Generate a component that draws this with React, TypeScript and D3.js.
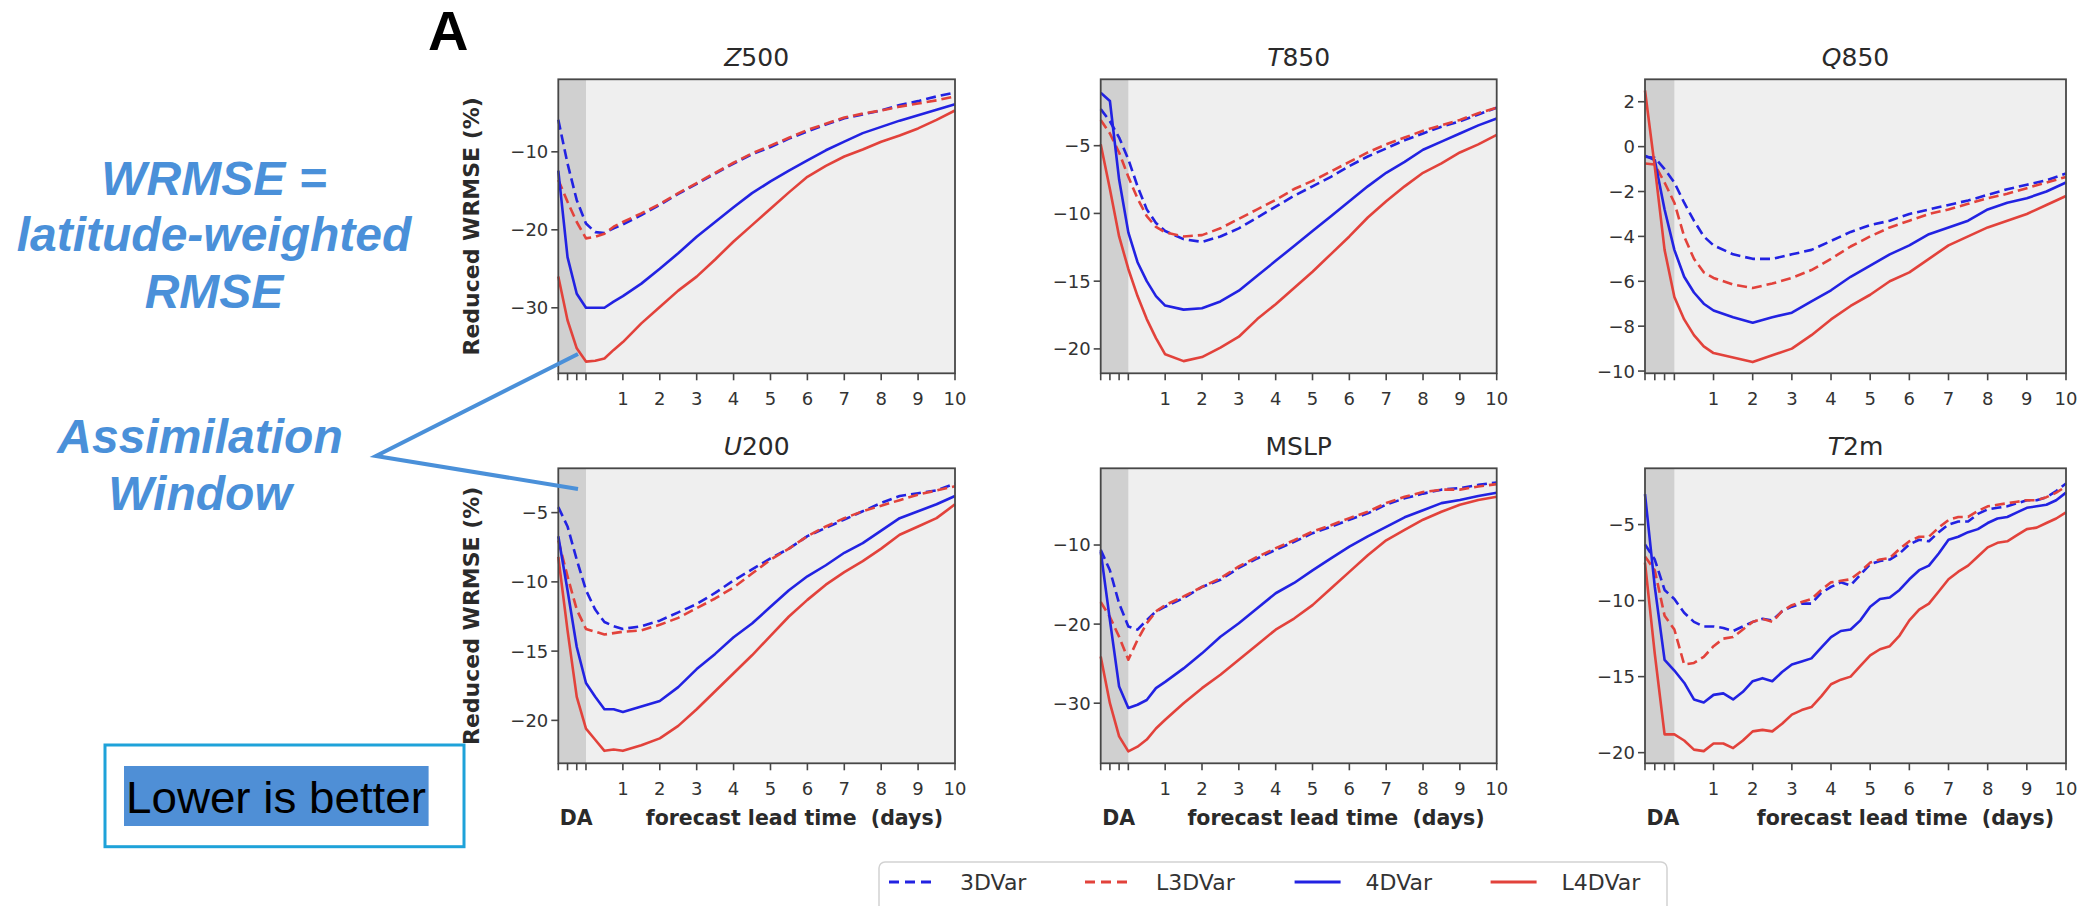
import React from 'react';
import * as d3 from 'd3';

// ---------- data ----------
const LEAD = [-0.75, -0.5, -0.25, 0, 0.25, 0.5, 0.75, 1, 1.5, 2, 2.5, 3, 3.5, 4, 4.5, 5, 5.5, 6, 6.5, 7, 7.5, 8, 8.5, 9, 9.5, 10];
const LEAD_6H = [-0.75, -0.5, -0.25, 0, 0.25, 0.5, 0.75, 1, 1.25, 1.5, 1.75, 2, 2.25, 2.5, 2.75, 3, 3.25, 3.5, 3.75, 4, 4.25, 4.5, 4.75, 5, 5.25, 5.5, 5.75, 6, 6.25, 6.5, 6.75, 7, 7.25, 7.5, 7.75, 8, 8.25, 8.5, 8.75, 9, 9.25, 9.5, 9.75, 10];
const DA_TICKS = [-0.75, -0.5, -0.25, 0];
const DAY_TICKS = [1, 2, 3, 4, 5, 6, 7, 8, 9, 10];

const SERIES_NAMES = ['3DVar', 'L3DVar', '4DVar', 'L4DVar'];

const z500_3DVar = [-5.9, -11.5, -16.2, -19.2, -20.3, -20.4, -19.8, -19.3, -18.1, -16.8, -15.4, -14.1, -12.8, -11.5, -10.3, -9.4, -8.3, -7.4, -6.5, -5.7, -5.2, -4.7, -4.0, -3.5, -2.9, -2.4];
const z500_L3DVar = [-13.6, -16.4, -19.0, -21.1, -20.9, -20.5, -19.6, -19.0, -17.9, -16.7, -15.3, -14.0, -12.7, -11.4, -10.2, -9.2, -8.2, -7.2, -6.4, -5.6, -5.1, -4.7, -4.2, -3.8, -3.4, -2.9];
const z500_4DVar = [-12.4, -23.5, -28.2, -30.0, -30.0, -30.0, -29.2, -28.5, -26.9, -25.0, -23.0, -20.9, -19.0, -17.1, -15.3, -13.8, -12.4, -11.1, -9.8, -8.7, -7.6, -6.8, -6.0, -5.3, -4.6, -3.9];
const z500_L4DVar = [-26.0, -31.6, -35.2, -36.9, -36.8, -36.5, -35.4, -34.4, -32.0, -29.9, -27.8, -26.0, -23.8, -21.5, -19.4, -17.3, -15.2, -13.2, -11.8, -10.6, -9.7, -8.7, -7.9, -7.0, -5.9, -4.7];

const t850_3DVar = [-2.3, -3.2, -4.4, -6.0, -8.0, -9.7, -10.7, -11.3, -11.9, -12.1, -11.7, -11.1, -10.3, -9.5, -8.7, -8.0, -7.3, -6.5, -5.8, -5.2, -4.6, -4.1, -3.6, -3.2, -2.7, -2.2];
const t850_L3DVar = [-3.1, -4.1, -5.5, -7.3, -8.9, -10.2, -11.0, -11.4, -11.7, -11.6, -11.1, -10.4, -9.7, -9.0, -8.2, -7.6, -6.9, -6.2, -5.5, -4.9, -4.4, -3.9, -3.5, -3.1, -2.6, -2.2];
const t850_4DVar = [-1.1, -1.7, -7.5, -11.4, -13.6, -15.0, -16.1, -16.8, -17.1, -17.0, -16.5, -15.7, -14.6, -13.5, -12.4, -11.3, -10.2, -9.1, -8.0, -7.0, -6.2, -5.3, -4.7, -4.1, -3.5, -3.0];
const t850_L4DVar = [-4.9, -8.2, -11.7, -14.1, -16.1, -17.8, -19.2, -20.4, -20.9, -20.6, -19.9, -19.1, -17.8, -16.7, -15.5, -14.3, -13.0, -11.7, -10.3, -9.1, -8.0, -7.0, -6.3, -5.5, -4.9, -4.2];

const q850_3DVar = [-0.45, -0.5, -1.0, -1.6, -2.5, -3.3, -4.0, -4.4, -4.8, -5.0, -5.0, -4.8, -4.6, -4.2, -3.8, -3.5, -3.3, -3.0, -2.8, -2.6, -2.4, -2.15, -1.9, -1.7, -1.5, -1.2];
const q850_L3DVar = [-0.75, -0.8, -1.6, -2.5, -4.0, -5.0, -5.6, -5.85, -6.15, -6.3, -6.1, -5.85, -5.5, -5.0, -4.45, -4.0, -3.6, -3.3, -3.0, -2.8, -2.55, -2.3, -2.1, -1.85, -1.6, -1.35];
const q850_4DVar = [-0.4, -0.6, -2.8, -4.6, -5.8, -6.5, -7.0, -7.3, -7.6, -7.85, -7.6, -7.4, -6.9, -6.4, -5.8, -5.3, -4.8, -4.4, -3.9, -3.6, -3.3, -2.8, -2.5, -2.3, -2.0, -1.6];
const q850_L4DVar = [2.5, -0.9, -4.6, -6.7, -7.7, -8.4, -8.9, -9.2, -9.4, -9.6, -9.3, -9.0, -8.4, -7.7, -7.1, -6.6, -6.0, -5.6, -5.0, -4.4, -4.0, -3.6, -3.3, -3.0, -2.6, -2.2];

const u200_3DVar = [-4.6, -6.0, -8.4, -10.6, -12.0, -12.9, -13.2, -13.4, -13.2, -12.8, -12.2, -11.6, -10.8, -9.9, -9.1, -8.3, -7.6, -6.7, -6.1, -5.5, -4.9, -4.3, -3.8, -3.6, -3.4, -2.9];
const u200_L3DVar = [-7.0, -9.6, -12.0, -13.4, -13.6, -13.8, -13.7, -13.6, -13.5, -13.1, -12.6, -11.9, -11.2, -10.4, -9.4, -8.4, -7.6, -6.7, -6.0, -5.4, -4.9, -4.5, -4.1, -3.7, -3.4, -3.1];
const u200_4DVar = [-6.7, -10.6, -14.7, -17.3, -18.3, -19.2, -19.2, -19.4, -19.0, -18.6, -17.6, -16.3, -15.2, -14.0, -13.0, -11.8, -10.6, -9.6, -8.8, -7.9, -7.2, -6.3, -5.4, -4.9, -4.4, -3.8];
const u200_L4DVar = [-8.2, -13.5, -18.3, -20.6, -21.4, -22.2, -22.1, -22.2, -21.8, -21.3, -20.4, -19.2, -17.9, -16.6, -15.3, -13.9, -12.5, -11.3, -10.2, -9.3, -8.5, -7.6, -6.6, -6.0, -5.4, -4.4];

const mslp_3DVar = [-10.6, -13.2, -17.4, -20.3, -20.7, -19.5, -18.4, -17.8, -16.7, -15.3, -14.4, -12.9, -11.7, -10.6, -9.6, -8.5, -7.7, -6.8, -6.0, -4.9, -4.1, -3.5, -3.0, -2.8, -2.4, -2.1];
const mslp_L3DVar = [-17.2, -19.1, -21.6, -24.5, -22.0, -19.9, -18.4, -17.6, -16.5, -15.3, -14.2, -12.7, -11.5, -10.4, -9.4, -8.3, -7.5, -6.6, -5.8, -4.7, -3.9, -3.3, -3.0, -3.0, -2.6, -2.3];
const mslp_4DVar = [-10.8, -19.5, -27.9, -30.6, -30.2, -29.6, -28.1, -27.3, -25.6, -23.7, -21.6, -19.9, -18.0, -16.1, -14.8, -13.2, -11.7, -10.2, -8.9, -7.7, -6.5, -5.6, -4.7, -4.3, -3.8, -3.4];
const mslp_L4DVar = [-24.1, -30.0, -34.2, -36.1, -35.5, -34.6, -33.2, -32.1, -30.0, -28.1, -26.4, -24.5, -22.6, -20.7, -19.3, -17.6, -15.5, -13.4, -11.3, -9.4, -8.1, -6.8, -5.8, -4.9, -4.3, -3.9];

const t2m_3DVar = [-6.3, -7.3, -9.3, -9.9, -10.8, -11.4, -11.7, -11.7, -11.8, -12.0, -11.7, -11.4, -11.2, -11.3, -10.7, -10.4, -10.2, -10.2, -9.5, -9.1, -8.8, -9.0, -8.3, -7.6, -7.4, -7.3, -6.9, -6.3, -6.0, -6.1, -5.5, -5.0, -4.8, -4.8, -4.3, -4.0, -3.9, -3.8, -3.6, -3.4, -3.4, -3.2, -2.8, -2.3];
const t2m_L3DVar = [-7.1, -8.0, -11.0, -11.9, -14.2, -14.1, -13.7, -13.0, -12.5, -12.4, -11.9, -11.4, -11.2, -11.4, -10.7, -10.3, -10.1, -9.9, -9.3, -8.8, -8.7, -8.6, -8.1, -7.5, -7.3, -7.2, -6.6, -6.1, -5.8, -5.8, -5.2, -4.7, -4.5, -4.5, -4.1, -3.8, -3.7, -3.6, -3.5, -3.4, -3.4, -3.2, -2.9, -2.5];
const t2m_4DVar = [-3.0, -9.1, -13.9, -14.6, -15.4, -16.5, -16.7, -16.2, -16.1, -16.5, -16.0, -15.3, -15.1, -15.3, -14.7, -14.2, -14.0, -13.8, -13.1, -12.4, -12.0, -11.9, -11.3, -10.4, -9.9, -9.8, -9.3, -8.6, -8.0, -7.7, -6.9, -6.0, -5.8, -5.5, -5.3, -4.9, -4.6, -4.5, -4.2, -3.9, -3.8, -3.7, -3.4, -2.9];
const t2m_L4DVar = [-7.5, -13.5, -18.8, -18.8, -19.2, -19.8, -19.9, -19.4, -19.4, -19.7, -19.2, -18.6, -18.5, -18.6, -18.1, -17.5, -17.2, -17.0, -16.3, -15.5, -15.2, -15.0, -14.3, -13.6, -13.2, -13.0, -12.3, -11.3, -10.6, -10.2, -9.4, -8.6, -8.1, -7.7, -7.1, -6.5, -6.2, -6.1, -5.7, -5.3, -5.2, -4.9, -4.6, -4.2];

const Z500_TICKS = [-10, -20, -30];
const T850_TICKS = [-5, -10, -15, -20];
const Q850_TICKS = [2, 0, -2, -4, -6, -8, -10];
const U200_TICKS = [-5, -10, -15, -20];
const MSLP_TICKS = [-10, -20, -30];
const T2M_TICKS = [-5, -10, -15, -20];

// ---------- styling ----------
const BLUE = '#2222e2';
const RED = '#e2423b';
const SERIES_STYLE = [
  { color: BLUE, dash: true },
  { color: RED, dash: true },
  { color: BLUE, dash: false },
  { color: RED, dash: false },
];
const ANNOT = '#4a90d9';
const FONT = '"DejaVu Sans", Verdana, sans-serif';
const AFONT = '"Liberation Sans", Arial, sans-serif';

const ROWS = [{ y0: 79.3, y1: 373.3 }, { y0: 468.3, y1: 763.3 }];
const COLS = [{ x0: 558.3, x1: 955 }, { x0: 1100.7, x1: 1496.7 }, { x0: 1645, x1: 2066 }];

const PANELS = [
  { it: 'Z', rest: '500', lead: LEAD, values: [z500_3DVar, z500_L3DVar, z500_4DVar, z500_L4DVar], yDomain: [-38.4, -0.7], ticks: Z500_TICKS, row: 0, col: 0 },
  { it: 'T', rest: '850', lead: LEAD, values: [t850_3DVar, t850_L3DVar, t850_4DVar, t850_L4DVar], yDomain: [-21.8, -0.1], ticks: T850_TICKS, row: 0, col: 1 },
  { it: 'Q', rest: '850', lead: LEAD, values: [q850_3DVar, q850_L3DVar, q850_4DVar, q850_L4DVar], yDomain: [-10.1, 3.0], ticks: Q850_TICKS, row: 0, col: 2 },
  { it: 'U', rest: '200', lead: LEAD, values: [u200_3DVar, u200_L3DVar, u200_4DVar, u200_L4DVar], yDomain: [-23.1, -1.8], ticks: U200_TICKS, row: 1, col: 0 },
  { it: '', rest: 'MSLP', lead: LEAD, values: [mslp_3DVar, mslp_L3DVar, mslp_4DVar, mslp_L4DVar], yDomain: [-37.6, -0.3], ticks: MSLP_TICKS, row: 1, col: 1 },
  { it: 'T', rest: '2m', lead: LEAD_6H, values: [t2m_3DVar, t2m_L3DVar, t2m_4DVar, t2m_L4DVar], yDomain: [-20.7, -1.3], ticks: T2M_TICKS, row: 1, col: 2 },
];

const fmt = (v: number) => (v < 0 ? '\u2212' + Math.abs(v) : String(v));

function Panel({ p }: { p: any }) {
  const { x0, x1 } = COLS[p.col];
  const { y0, y1 } = ROWS[p.row];
  const x = d3.scaleLinear().domain([-0.75, 10]).range([x0, x1]);
  const y = d3.scaleLinear().domain(p.yDomain).range([y1, y0]);
  const cx = (x0 + x1) / 2;
  const tickLen = 7;
  return (
    <g>
      <rect x={x0} y={y0} width={x1 - x0} height={y1 - y0} fill="#efefef" />
      <rect x={x(-0.75)} y={y0} width={x(0) - x(-0.75)} height={y1 - y0} fill="#d0d0d0" />
      {p.values.map((vals: number[], i: number) => {
        const line = d3.line<number>().x((_, j) => x(p.lead[j])).y((v) => y(v));
        const s = SERIES_STYLE[i];
        return (
          <path key={i} d={line(vals) || ''} fill="none" stroke={s.color} strokeWidth={2.6}
            strokeDasharray={s.dash ? '10,5' : undefined} strokeLinejoin="round" />
        );
      })}
      <rect x={x0} y={y0} width={x1 - x0} height={y1 - y0} fill="none" stroke="#474747" strokeWidth={1.8} />
      {/* x ticks */}
      {DA_TICKS.concat(DAY_TICKS).map((t) => (
        <line key={'xt' + t} x1={x(t)} x2={x(t)} y1={y1} y2={y1 + tickLen} stroke="#474747" strokeWidth={1.6} />
      ))}
      {DAY_TICKS.map((t) => (
        <text key={'xl' + t} x={x(t)} y={y1 + 31.5} textAnchor="middle" fontFamily={FONT} fontSize={18} fill="#333">{t}</text>
      ))}
      {/* y ticks */}
      {p.ticks.map((t: number) => (
        <g key={'yt' + t}>
          <line x1={x0 - tickLen} x2={x0} y1={y(t)} y2={y(t)} stroke="#474747" strokeWidth={1.6} />
          <text x={x0 - 10} y={y(t)} dy="0.36em" textAnchor="end" fontFamily={FONT} fontSize={18} fill="#333">{fmt(t)}</text>
        </g>
      ))}
      {/* title */}
      <text x={cx} y={y0 - 13.5} textAnchor="middle" fontFamily={FONT} fontSize={25} fill="#2a2a2a">
        {p.it ? <tspan fontStyle="italic">{p.it}</tspan> : null}
        <tspan>{p.rest}</tspan>
      </text>
      {p.col === 0 ? (
        <text transform={`translate(479, ${(y0 + y1) / 2}) rotate(-90)`} textAnchor="middle" fontFamily={FONT}
          fontWeight="bold" fontSize={22} fill="#2a2a2a">Reduced WRMSE (%)</text>
      ) : null}
      {p.row === 1 ? (
        <g fontFamily={FONT} fontWeight="bold" fontSize={20.5} fill="#2a2a2a">
          <text x={x0 + 1.5} y={y1 + 61.7}>DA</text>
          <text x={x1 - 12} y={y1 + 61.7} textAnchor="end" style={{ whiteSpace: 'pre' }}>{'forecast lead time  (days)'}</text>
        </g>
      ) : null}
    </g>
  );
}

function Legend() {
  const startX = 889;
  const lineY = 882;
  const handle = 46;
  const textOff = 71;
  const gap = 57;
  let cur = startX;
  const items = SERIES_NAMES.map((name, i) => {
    const s = SERIES_STYLE[i];
    const lx = cur;
    const tx = lx + textOff;
    cur = tx + name.length * 13.6 + gap;
    return (
      <g key={name}>
        <line x1={lx} x2={lx + handle} y1={lineY} y2={lineY} stroke={s.color} strokeWidth={2.8}
          strokeDasharray={s.dash ? '10,6' : undefined} />
        <text x={tx} y={lineY + 8} fontFamily={FONT} fontSize={22} fill="#333">{name}</text>
      </g>
    );
  });
  return (
    <g>
      <rect x={879} y={862} width={788} height={60} rx={6} fill="#fff" stroke="#d2d2d2" strokeWidth={1.5} />
      {items}
    </g>
  );
}

export default function App() {
  return (
    <svg width={2087} height={906} style={{ position: 'absolute', left: 0, top: 0, background: '#fff' }}>
      <rect x={0} y={0} width={2087} height={906} fill="#fff" />
      <text x={428} y={50} fontFamily={AFONT} fontWeight="bold" fontSize={56} fill="#000">A</text>
      {PANELS.map((p, i) => <Panel key={i} p={p} />)}
      <Legend />
      {/* annotations */}
      <g fontFamily={AFONT} fontWeight="bold" fontStyle="italic" fontSize={48} fill={ANNOT} textAnchor="middle">
        <text x={214} y={195}>WRMSE =</text>
        <text x={214} y={251}>latitude-weighted</text>
        <text x={214} y={308}>RMSE</text>
        <text x={200} y={453}>Assimilation</text>
        <text x={200} y={510}>Window</text>
      </g>
      <polyline points="578,354 376,456 578,489" fill="none" stroke={ANNOT} strokeWidth={4} />
      <rect x={105} y={745} width={359} height={101.7} fill="none" stroke="#1ea2d9" strokeWidth={3} />
      <rect x={124} y={766} width={304.6} height={60} fill="#4f8fd6" />
      <text x={126} y={813} fontFamily={'"Liberation Sans Narrow", "Liberation Sans", Arial, sans-serif'} fontSize={44}
        textLength={300} lengthAdjust="spacingAndGlyphs" fill="#000">Lower is better</text>
    </svg>
  );
}
